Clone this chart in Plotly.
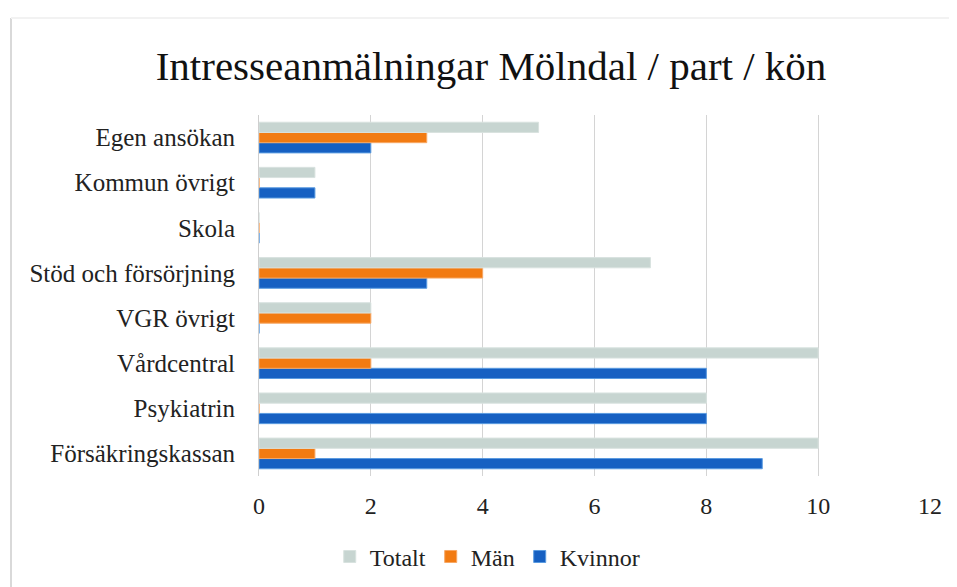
import plotly.graph_objects as go

CATEGORIES = [
    "Försäkringskassan",
    "Psykiatrin",
    "Vårdcentral",
    "VGR övrigt",
    "Stöd och försörjning",
    "Skola",
    "Kommun övrigt",
    "Egen ansökan",
]
TOTALT = [10, 8, 10, 2, 7, 0, 1, 5]
MAN = [1, 0, 2, 2, 4, 0, 0, 3]
KVINNOR = [9, 8, 8, 0, 3, 0, 1, 2]

FONT = "Liberation Serif"

fig = go.Figure()
# first trace ends up at the bottom of each group
fig.add_trace(go.Bar(name="Kvinnor", y=CATEGORIES, x=KVINNOR, orientation="h",
                     marker=dict(color="#1660c2", line=dict(color="#5a9be0", width=1))))
fig.add_trace(go.Bar(name="Män", y=CATEGORIES, x=MAN, orientation="h",
                     marker=dict(color="#f27b12", line=dict(color="#f7a865", width=1))))
fig.add_trace(go.Bar(name="Totalt", y=CATEGORIES, x=TOTALT, orientation="h",
                     marker=dict(color="#c7d5d1", line=dict(color="#d8e2df", width=1))))

fig.update_layout(
    width=949,
    height=579,
    margin=dict(l=251, r=27, t=107, b=111),
    paper_bgcolor="white",
    plot_bgcolor="white",
    font=dict(family=FONT, size=22, color="#222222"),
    title=dict(
        text="Intresseanmälningar Mölndal / part / kön",
        font=dict(family=FONT, size=41, color="#111111"),
        x=0.509, xanchor="center", xref="container",
        y=0.90, yanchor="middle", yref="container",
    ),
    barmode="group",
    bargap=0.32,
    bargroupgap=0.0,
    showlegend=True,
    legend=dict(
        orientation="h",
        traceorder="reversed",
        x=0.505, xanchor="center", xref="container",
        y=0.052, yanchor="middle", yref="container",
        font=dict(family=FONT, size=24, color="#222222"),
        itemwidth=30,
    ),
    xaxis=dict(
        range=[0, 12],
        dtick=2,
        showgrid=True,
        gridcolor="#d4d4d4",
        gridwidth=1,
        zeroline=False,
        showline=False,
        ticks="",
        ticklabelstandoff=13,
        tickfont=dict(family=FONT, size=24, color="#222222"),
    ),
    yaxis=dict(
        showgrid=False,
        showline=True,
        linecolor="#cfcfcf",
        linewidth=1,
        ticks="",
        ticklabelstandoff=18,
        tickfont=dict(family=FONT, size=25, color="#222222"),
    ),
    shapes=[
        # faint frame edge on the left of the scanned chart
        dict(type="line", xref="paper", yref="paper",
             x0=-0.3696, x1=-0.3696, y0=1.2687, y1=-0.4,
             line=dict(color="#d9d9d9", width=2)),
        dict(type="line", xref="paper", yref="paper",
             x0=-0.3696, x1=1.1, y0=1.2687, y1=1.2687,
             line=dict(color="#f2f2f2", width=2)),
    ],
)

fig.write_html("out.html")
